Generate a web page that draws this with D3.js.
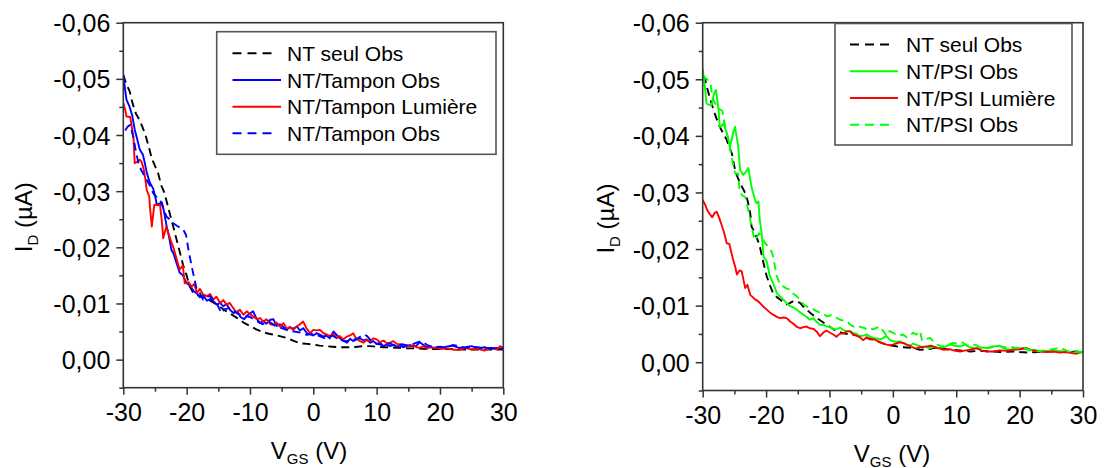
<!DOCTYPE html>
<html>
<head>
<meta charset="utf-8">
<script src="https://cdn.jsdelivr.net/npm/d3@7"></script>
<style>
  html, body { margin: 0; padding: 0; background: #fff; }
  svg { display: block; }
  text { font-family: "Liberation Sans", Arial, sans-serif; fill: #000; }
</style>
</head>
<body>
<svg id="chart" width="1104" height="468"></svg>
<script>
// ---------- data ----------
const xTicks = [-30, -20, -10, 0, 10, 20, 30];
const xMinorTicks = [-25, -15, -5, 5, 15, 25];
const yTicks = [-0.06, -0.05, -0.04, -0.03, -0.02, -0.01, 0];
const yMinorTicks = [-0.055, -0.045, -0.035, -0.025, -0.015, -0.005, 0.005];

const leftLegend = ["NT seul Obs", "NT/Tampon Obs", "NT/Tampon Lumière", "NT/Tampon Obs"];
const rightLegend = ["NT seul Obs", "NT/PSI Obs", "NT/PSI Lumière", "NT/PSI Obs"];

// Left panel: [VGS (V), ID (µA)]
const seulObsLeft = [[-30,-0.0507],[-29.5,-0.049],[-29,-0.0478],[-28.5,-0.0455],[-28,-0.0438],[-27.5,-0.0428],[-27,-0.0415],[-26.5,-0.040],[-26,-0.038],[-25.5,-0.0358],[-25,-0.0345],[-24.5,-0.0332],[-24,-0.031],[-23.5,-0.0297],[-23,-0.0275],[-22.5,-0.0253],[-22,-0.0232],[-21.5,-0.021],[-21,-0.0188],[-20.5,-0.0166],[-20,-0.015],[-19.5,-0.013],[-19,-0.012],[-18,-0.0113],[-17,-0.0109],[-16,-0.0103],[-15,-0.0096],[-14,-0.0088],[-13,-0.0081],[-12,-0.0074],[-11,-0.0066],[-10,-0.006],[-9,-0.0054],[-8,-0.0049],[-7,-0.0046],[-6,-0.0044],[-5,-0.0041],[-4,-0.0038],[-3,-0.0033],[-2,-0.0029],[-1,-0.0028],[0,-0.0027],[1,-0.0025],[2,-0.0024],[3,-0.0023],[4,-0.0022],[5,-0.0022],[6,-0.0022],[7,-0.0023],[8,-0.0024],[9,-0.0024],[10,-0.0023],[11,-0.0022],[12,-0.0022],[13,-0.0021],[14,-0.0021],[15,-0.002],[16,-0.002],[18,-0.0019],[20,-0.0019],[22,-0.0019],[24,-0.0018],[26,-0.0018],[28,-0.0018],[30,-0.0018]];

const tamponObsLeft = [[-30,-0.0507],[-29.7,-0.048],[-29.5,-0.0463],[-29,-0.045],[-28.6,-0.0435],[-28.2,-0.041],[-27.9,-0.0397],[-27.4,-0.0374],[-26.9,-0.0365],[-26.6,-0.035],[-26.3,-0.0333],[-25.8,-0.0315],[-25.3,-0.0305],[-25,-0.0292],[-24.7,-0.0276],[-24.2,-0.0278],[-23.9,-0.028],[-23.6,-0.0265],[-23.2,-0.024],[-22.8,-0.022],[-22.4,-0.0195],[-22.1,-0.019],[-21.6,-0.0172],[-21.1,-0.0155],[-20.6,-0.015],[-20,-0.0136],[-19.5,-0.0132],[-18.9,-0.0122],[-18.4,-0.0118],[-17.9,-0.0111],[-17.4,-0.0115],[-16.8,-0.0105],[-16.2,-0.0108],[-15.7,-0.0103],[-15.2,-0.0098],[-14.7,-0.0101],[-14.2,-0.0095],[-13.7,-0.0099],[-13.1,-0.0088],[-12.6,-0.0083],[-12,-0.0086],[-11.5,-0.0076],[-10.9,-0.0072],[-10.5,-0.0078],[-10,-0.0082],[-9.5,-0.0086],[-9,-0.0074],[-8.4,-0.0065],[-7.9,-0.0069],[-7.4,-0.0064],[-6.8,-0.0071],[-6.3,-0.0072],[-5.8,-0.006],[-5.3,-0.0063],[-4.7,-0.0058],[-4.2,-0.0053],[-3.7,-0.0058],[-3.2,-0.0055],[-2.6,-0.0059],[-2.1,-0.0052],[-1.6,-0.0056],[-1,-0.0047],[-0.5,-0.0045],[0,-0.0043],[0.5,-0.0047],[1.1,-0.0044],[1.6,-0.0041],[2.1,-0.0043],[2.6,-0.0038],[3.2,-0.005],[3.7,-0.0044],[4.2,-0.0038],[4.7,-0.0034],[5.3,-0.003],[5.8,-0.0037],[6.3,-0.0033],[6.8,-0.0036],[7.4,-0.0038],[7.9,-0.0034],[8.4,-0.0036],[9,-0.003],[9.5,-0.0033],[10,-0.0028],[10.5,-0.003],[11.1,-0.0024],[11.6,-0.0027],[12.1,-0.0024],[12.6,-0.0026],[13.2,-0.0023],[13.7,-0.0025],[14.2,-0.0022],[14.7,-0.0024],[15.3,-0.0026],[15.8,-0.0023],[16.3,-0.0025],[16.8,-0.0031],[17.4,-0.0026],[17.9,-0.0022],[18.4,-0.0024],[18.9,-0.0021],[19.5,-0.0022],[20,-0.002],[21,-0.0023],[22,-0.0025],[23,-0.0021],[24,-0.0022],[25,-0.0024],[26,-0.002],[27,-0.0022],[28,-0.0019],[29,-0.0021],[30,-0.0019]];

const tamponLumiereLeft = [[-30,-0.0457],[-29.7,-0.0445],[-29.5,-0.0433],[-28.9,-0.0432],[-28.6,-0.041],[-28.4,-0.0397],[-28.2,-0.035],[-27.8,-0.0352],[-27.4,-0.0356],[-27.1,-0.0352],[-26.8,-0.034],[-26.5,-0.032],[-26.3,-0.0302],[-25.9,-0.029],[-25.8,-0.0273],[-25.5,-0.0237],[-25.1,-0.0276],[-24.6,-0.0275],[-24.2,-0.0276],[-23.9,-0.0245],[-23.7,-0.0216],[-23.2,-0.0237],[-22.6,-0.0215],[-22.1,-0.02],[-21.6,-0.018],[-21.1,-0.016],[-20.6,-0.0168],[-20.3,-0.0136],[-19.7,-0.0138],[-19.2,-0.013],[-18.8,-0.0135],[-18.4,-0.0119],[-17.9,-0.0126],[-17.4,-0.0116],[-16.8,-0.0113],[-16.3,-0.0117],[-15.8,-0.0107],[-15.3,-0.0112],[-14.7,-0.0101],[-14.2,-0.0106],[-13.7,-0.0098],[-13.2,-0.0101],[-12.6,-0.0091],[-12.1,-0.0083],[-11.6,-0.0089],[-11.05,-0.008],[-10.5,-0.0086],[-10,-0.0081],[-9.5,-0.0077],[-8.9,-0.0072],[-8.4,-0.0074],[-7.9,-0.0068],[-7.4,-0.0072],[-6.8,-0.0063],[-6.3,-0.0062],[-5.8,-0.0066],[-5.3,-0.0059],[-4.7,-0.0065],[-4.2,-0.0055],[-3.7,-0.0058],[-3.2,-0.0053],[-2.6,-0.0059],[-2.1,-0.0063],[-1.6,-0.0068],[-1.1,-0.0056],[-0.5,-0.0047],[0,-0.0053],[0.5,-0.0052],[1.05,-0.0053],[1.6,-0.0047],[2.1,-0.0045],[2.6,-0.0042],[3.2,-0.0046],[3.7,-0.0038],[4.2,-0.0042],[4.7,-0.0036],[5.3,-0.0041],[5.8,-0.0043],[6.3,-0.0047],[6.8,-0.0037],[7.4,-0.0033],[7.9,-0.003],[8.4,-0.0035],[9,-0.0033],[9.5,-0.0038],[10,-0.0036],[10.5,-0.0031],[11.1,-0.0034],[11.6,-0.0029],[12.1,-0.003],[12.6,-0.0033],[13.2,-0.0028],[13.7,-0.0027],[14.2,-0.0027],[14.7,-0.0025],[15.3,-0.0023],[15.8,-0.0026],[16.3,-0.0022],[16.8,-0.0021],[17.4,-0.0024],[17.9,-0.0019],[18.4,-0.0022],[18.9,-0.0021],[19.5,-0.0021],[20,-0.0019],[21,-0.002],[22,-0.0018],[23,-0.0017],[24,-0.0021],[25,-0.0018],[26,-0.0019],[27,-0.0016],[28,-0.0021],[29,-0.0018],[29.5,-0.0024],[30,-0.0021]];

const tamponObs2Left = [[-29.7,-0.0408],[-29.3,-0.0415],[-28.9,-0.0418],[-28.4,-0.0395],[-28,-0.037],[-27.6,-0.035],[-27.2,-0.0338],[-26.8,-0.033],[-26.3,-0.032],[-25.8,-0.031],[-25.3,-0.0297],[-24.8,-0.029],[-24.2,-0.0285],[-23.7,-0.027],[-23.2,-0.0255],[-22.7,-0.025],[-22.1,-0.0243],[-21.5,-0.0238],[-21,-0.0235],[-20.5,-0.0231],[-20.1,-0.0222],[-19.7,-0.0195],[-19.2,-0.0166],[-18.8,-0.0145],[-18.4,-0.0125],[-17.9,-0.0118],[-17.4,-0.0107],[-16.8,-0.0112],[-16.3,-0.0113],[-15.8,-0.0105],[-15.3,-0.0101],[-14.5,-0.0083],[-14,-0.009],[-13,-0.0092],[-12,-0.0082],[-11,-0.0078],[-10,-0.0076],[-9,-0.0069],[-8,-0.0063],[-7,-0.0068],[-6,-0.006],[-5,-0.0056],[-4,-0.0052],[-3,-0.005],[-2,-0.0048],[-1,-0.0044],[0,-0.0046],[1,-0.0042],[2,-0.0037],[3,-0.0043],[4,-0.0036],[5,-0.0033],[6,-0.0034],[7,-0.0038],[8,-0.0045],[8.5,-0.0042],[9,-0.0035],[10,-0.0028],[11,-0.0026],[12,-0.0029],[13,-0.0025],[14,-0.0027],[15,-0.0025],[16,-0.0029],[17,-0.0033],[18,-0.0026],[19,-0.0022],[20,-0.0023],[21,-0.0021],[22,-0.0026],[23,-0.0024],[24,-0.0021],[25,-0.0023],[26,-0.0022],[27,-0.002],[28,-0.0021],[29,-0.002],[30,-0.0019]];

// Right panel
const seulObsRight = [[-30,-0.0506],[-29.6,-0.0499],[-29.2,-0.048],[-28.8,-0.0465],[-28.3,-0.0446],[-27.8,-0.043],[-27.3,-0.0416],[-26.8,-0.0405],[-26.2,-0.0393],[-25.8,-0.038],[-25.4,-0.0369],[-24.9,-0.034],[-24.5,-0.0327],[-24.1,-0.0316],[-23.7,-0.0308],[-23.3,-0.0299],[-22.9,-0.0285],[-22.5,-0.0263],[-22.3,-0.024],[-21.75,-0.0228],[-21.4,-0.0218],[-21,-0.0205],[-20.7,-0.019],[-20.4,-0.0175],[-19.9,-0.0152],[-19.4,-0.0136],[-18.9,-0.0122],[-18.3,-0.0115],[-17.8,-0.0111],[-17.3,-0.0106],[-16.75,-0.0102],[-16.2,-0.0105],[-15.7,-0.0108],[-15.2,-0.0107],[-14.65,-0.0105],[-14.1,-0.0098],[-13.6,-0.0093],[-12.8,-0.0085],[-12,-0.0078],[-11.2,-0.0072],[-10.4,-0.0066],[-9.6,-0.006],[-8.9,-0.0055],[-7.8,-0.0051],[-6.8,-0.0049],[-6,-0.0048],[-5.2,-0.0046],[-4.2,-0.0043],[-3.1,-0.004],[-2,-0.0035],[-1,-0.0031],[0,-0.0029],[1.1,-0.0027],[2.2,-0.0026],[3.2,-0.0025],[4.3,-0.0022],[5.5,-0.0023],[6.9,-0.0026],[8,-0.0024],[9,-0.0022],[10.5,-0.0021],[12.2,-0.0019],[13.8,-0.002],[15.5,-0.0019],[17.4,-0.0018],[19,-0.0019],[20,-0.0018],[21.5,-0.0017],[23,-0.0018],[24.5,-0.0019],[25.8,-0.0019],[27.9,-0.0018],[29,-0.0019],[30,-0.0017]];

const psiObsRight = [[-30,-0.0519],[-29.8,-0.050],[-29.6,-0.0481],[-29.4,-0.0457],[-29,-0.0455],[-28.6,-0.0454],[-28.2,-0.0475],[-27.9,-0.0481],[-27.5,-0.0446],[-27.3,-0.0416],[-27,-0.0418],[-26.75,-0.0422],[-26.2,-0.0405],[-25.7,-0.0381],[-25.4,-0.0395],[-25.2,-0.0405],[-24.9,-0.0416],[-24.6,-0.0395],[-24.4,-0.0381],[-24.1,-0.034],[-23.6,-0.0331],[-23.2,-0.0336],[-22.8,-0.0343],[-22.3,-0.031],[-21.75,-0.0287],[-21.5,-0.0281],[-21.2,-0.0284],[-21,-0.0252],[-20.7,-0.0228],[-20.4,-0.0187],[-19.9,-0.0178],[-19.4,-0.0152],[-18.9,-0.014],[-18.3,-0.0122],[-17.8,-0.0116],[-17.3,-0.0111],[-16.7,-0.0104],[-16.2,-0.0099],[-15.7,-0.0097],[-15.2,-0.0093],[-14.6,-0.0088],[-14.1,-0.0084],[-13.6,-0.008],[-13.1,-0.0075],[-12.55,-0.0078],[-12,-0.0071],[-11.5,-0.0066],[-10.9,-0.0066],[-10.4,-0.0063],[-9.9,-0.0062],[-9.4,-0.0058],[-8.8,-0.0059],[-8.3,-0.0061],[-7.8,-0.0057],[-7.3,-0.0055],[-6.8,-0.0055],[-6.25,-0.0052],[-5.7,-0.005],[-5.2,-0.0046],[-4.6,-0.0047],[-4.1,-0.0049],[-3.6,-0.0045],[-3.1,-0.0043],[-2.5,-0.0042],[-2,-0.004],[-1.5,-0.0043],[-1,-0.0046],[-0.5,-0.004],[0,-0.0037],[0.6,-0.0036],[1.1,-0.0037],[1.6,-0.0034],[2.2,-0.0031],[2.7,-0.0029],[3.2,-0.0033],[3.8,-0.003],[4.3,-0.0028],[5,-0.0027],[5.8,-0.0025],[6.6,-0.0027],[7.4,-0.0025],[8.2,-0.0027],[9,-0.0031],[9.8,-0.0029],[10.6,-0.0028],[11.4,-0.0031],[12.2,-0.0026],[13.2,-0.0024],[14,-0.0026],[14.8,-0.0025],[15.8,-0.0028],[16.9,-0.0029],[17.6,-0.0024],[18.5,-0.0022],[19.5,-0.0024],[20.6,-0.0025],[21.5,-0.0021],[22.3,-0.0022],[23.2,-0.0019],[24.2,-0.002],[25.3,-0.0021],[26.4,-0.0019],[27.4,-0.0018],[28.5,-0.0017],[29.5,-0.0016],[30,-0.0019]];

const psiLumiereRight = [[-30,-0.0287],[-29.6,-0.0278],[-29.3,-0.0269],[-28.9,-0.0262],[-28.5,-0.0256],[-28.1,-0.0264],[-27.8,-0.0266],[-27.4,-0.0255],[-27,-0.0242],[-26.6,-0.0228],[-26.2,-0.021],[-25.8,-0.0209],[-25.5,-0.0195],[-25.2,-0.0181],[-24.9,-0.017],[-24.6,-0.0155],[-24.2,-0.0162],[-23.85,-0.0161],[-23.3,-0.0131],[-22.95,-0.0137],[-22.5,-0.0119],[-22.1,-0.0115],[-21.75,-0.0111],[-21.4,-0.0109],[-21,-0.0105],[-20.5,-0.0099],[-19.9,-0.0093],[-19.4,-0.0088],[-18.9,-0.0084],[-18.3,-0.008],[-17.8,-0.0078],[-17.3,-0.0079],[-16.75,-0.0078],[-16.2,-0.0072],[-15.7,-0.0068],[-15.2,-0.0063],[-14.65,-0.006],[-14.1,-0.0062],[-13.6,-0.0063],[-13.1,-0.006],[-12.55,-0.0059],[-12,-0.0054],[-11.5,-0.0046],[-11,-0.0052],[-10.5,-0.0056],[-9.9,-0.0052],[-9.4,-0.0049],[-8.9,-0.0045],[-8.4,-0.005],[-7.8,-0.0051],[-7.3,-0.0054],[-6.8,-0.0055],[-6.25,-0.0049],[-5.7,-0.0047],[-5.2,-0.0044],[-4.7,-0.0039],[-4.1,-0.0044],[-3.6,-0.004],[-3.1,-0.0041],[-2.5,-0.0038],[-2,-0.0035],[-1.5,-0.0033],[-1,-0.0031],[-0.5,-0.003],[0,-0.0031],[0.5,-0.0033],[1.1,-0.0035],[1.6,-0.0034],[2.2,-0.0031],[2.7,-0.0029],[3.2,-0.0026],[3.7,-0.0024],[4.3,-0.0027],[4.8,-0.0027],[5.4,-0.0028],[6,-0.0029],[6.4,-0.0028],[7,-0.0025],[7.5,-0.0024],[8,-0.0022],[9,-0.0023],[9.5,-0.0021],[10.6,-0.0019],[11.5,-0.0021],[12.2,-0.0022],[13.2,-0.0025],[14,-0.0021],[14.8,-0.0019],[15.8,-0.0019],[16.9,-0.0021],[18,-0.002],[19,-0.0022],[20,-0.0023],[21.1,-0.0025],[22,-0.0021],[23.2,-0.0019],[24.2,-0.0018],[25.3,-0.0019],[26.3,-0.0017],[27.4,-0.0018],[28.2,-0.0016],[29,-0.0015],[29.5,-0.0018],[30,-0.0018]];

const psiObs2Right = [[-30,-0.0508],[-29.6,-0.0502],[-29.2,-0.0499],[-28.8,-0.0494],[-28.5,-0.047],[-28.1,-0.0458],[-27.7,-0.0452],[-27.3,-0.0447],[-26.9,-0.0444],[-26.6,-0.0425],[-26.2,-0.0405],[-25.8,-0.0385],[-25.4,-0.036],[-24.9,-0.0334],[-24.4,-0.0333],[-24.2,-0.0305],[-23.8,-0.0295],[-23.3,-0.0292],[-22.7,-0.0264],[-22.2,-0.0235],[-21.8,-0.0216],[-21.4,-0.0222],[-21.1,-0.0228],[-20.6,-0.0218],[-20.1,-0.021],[-19.6,-0.0203],[-19.1,-0.0195],[-18.9,-0.0187],[-18.6,-0.0169],[-18.3,-0.0152],[-17.8,-0.0137],[-17.3,-0.0134],[-16.7,-0.013],[-16.2,-0.0128],[-15.7,-0.0121],[-15.2,-0.0117],[-14.65,-0.0111],[-14.1,-0.0102],[-13.5,-0.0098],[-12.8,-0.0096],[-12.2,-0.0091],[-11.6,-0.0088],[-11,-0.0086],[-10.4,-0.0081],[-9.8,-0.0083],[-9.3,-0.0081],[-8.8,-0.0078],[-8.3,-0.0075],[-7.7,-0.0073],[-7.2,-0.0072],[-6.7,-0.0066],[-6.2,-0.0063],[-5.6,-0.0065],[-5.1,-0.0062],[-4.6,-0.0061],[-4.1,-0.0058],[-3.6,-0.006],[-3.1,-0.0058],[-2.5,-0.0061],[-2,-0.0063],[-1.5,-0.0055],[-1,-0.0046],[-0.5,-0.0055],[0,-0.0052],[0.5,-0.0049],[1,-0.0047],[1.6,-0.0049],[2.2,-0.0044],[2.7,-0.0047],[3.2,-0.0052],[3.7,-0.0049],[4.3,-0.0055],[4.6,-0.0038],[5.2,-0.0041],[5.9,-0.0043],[6.6,-0.0034],[7.2,-0.003],[7.8,-0.0028],[8.5,-0.0029],[9,-0.0032],[9.5,-0.0034],[10.3,-0.0033],[11,-0.0035],[11.6,-0.003],[12.2,-0.0029],[13,-0.0031],[13.6,-0.0027],[14.5,-0.0026],[15.2,-0.0025],[16,-0.0028],[16.9,-0.0028],[17.8,-0.0026],[18.6,-0.0027],[19.5,-0.0025],[20.7,-0.0025],[21.6,-0.0022],[22.7,-0.0019],[23.8,-0.0021],[24.8,-0.0022],[25.7,-0.0024],[26.6,-0.0025],[27.5,-0.002],[28.5,-0.0017],[29.2,-0.0019],[30,-0.0018]];

// ---------- drawing ----------
const svg = d3.select("#chart");
const FONT = '"Liberation Sans", Arial, sans-serif';
const fmtY = v => {
  if (Math.abs(v) < 1e-12) return "0,00";
  return (v < 0 ? "-" : "") + Math.abs(v).toFixed(2).replace(".", ",");
};

const panels = [
  { id: "L", x0: 123.3, x1: 503.3, top: 22.7, bottom: 387.7, yLabelX: 32, xLabelX: 309,
    series: [
      { data: seulObsLeft, color: "#000000", dash: "8,5" },
      { data: tamponObsLeft, color: "#0000ff", dash: null },
      { data: tamponLumiereLeft, color: "#ff0000", dash: null },
      { data: tamponObs2Left, color: "#0000ff", dash: "8,5" }
    ],
    legend: { names: leftLegend, x0: 216.7, x1: 496, y0: 31.7, y1: 154.3, rows: [53.3, 80, 106.7, 133.3], s0: 232.5, s1: 281, s1d: 273, tx: 287 }
  },
  { id: "R", x0: 702.7, x1: 1083, top: 22.7, bottom: 390.5, yLabelX: 614, xLabelX: 892,
    series: [
      { data: seulObsRight, color: "#000000", dash: "8,5" },
      { data: psiObsRight, color: "#00ff00", dash: null },
      { data: psiLumiereRight, color: "#ff0000", dash: null },
      { data: psiObs2Right, color: "#00ff00", dash: "8,5" }
    ],
    legend: { names: rightLegend, x0: 835, x1: 1072, y0: 23.5, y1: 145, rows: [44.5, 71.3, 98, 124.7], s0: 850, s1: 898, s1d: 891, tx: 906 }
  }
];

panels.forEach(p => {
  const x = d3.scaleLinear().domain([-30, 30]).range([p.x0, p.x1]);
  const y = d3.scaleLinear().domain([0.005, -0.06]).range([p.bottom, p.top]);
  const g = svg.append("g");

  const clipId = "clip" + p.id;
  svg.append("clipPath").attr("id", clipId)
    .append("rect").attr("x", p.x0).attr("y", p.top).attr("width", p.x1 - p.x0).attr("height", p.bottom - p.top);

  const line = d3.line().x(d => x(d[0])).y(d => y(d[1]));
  const lg = g.append("g").attr("clip-path", `url(#${clipId})`);
  p.series.forEach(s => {
    lg.append("path").datum(s.data)
      .attr("d", line)
      .attr("fill", "none")
      .attr("stroke", s.color)
      .attr("stroke-width", 1.9)
      .attr("stroke-linejoin", "round")
      .attr("stroke-dasharray", s.dash);
  });

  const xAxisMajor = d3.axisBottom(x).tickValues(xTicks).tickSize(7).tickFormat(d => String(d));
  const xAxisMinor = d3.axisBottom(x).tickValues(xMinorTicks).tickSize(4).tickFormat("");
  const gx = g.append("g").attr("transform", `translate(0,${p.bottom})`).call(xAxisMajor);
  const gxm = g.append("g").attr("transform", `translate(0,${p.bottom})`).call(xAxisMinor);
  [gx, gxm].forEach(a => {
    a.select(".domain").remove();
    a.selectAll("line").attr("stroke", "#333").attr("stroke-width", 1.5);
  });
  gx.selectAll("text").attr("y", 33).attr("dy", 0)
    .style("font-family", FONT).style("font-size", "25px").attr("fill", "#000");

  const yAxisMajor = d3.axisLeft(y).tickValues(yTicks).tickSize(7).tickFormat(fmtY);
  const yAxisMinor = d3.axisLeft(y).tickValues(yMinorTicks).tickSize(4).tickFormat("");
  const gy = g.append("g").attr("transform", `translate(${p.x0},0)`).call(yAxisMajor);
  const gym = g.append("g").attr("transform", `translate(${p.x0},0)`).call(yAxisMinor);
  [gy, gym].forEach(a => {
    a.select(".domain").remove();
    a.selectAll("line").attr("stroke", "#333").attr("stroke-width", 1.5);
  });
  gy.selectAll("text").attr("x", -13).attr("dy", "0.36em")
    .style("font-family", FONT).style("font-size", "25px").attr("fill", "#000");

  g.append("rect")
    .attr("x", p.x0).attr("y", p.top)
    .attr("width", p.x1 - p.x0).attr("height", p.bottom - p.top)
    .attr("fill", "none").attr("stroke", "#333").attr("stroke-width", 1.6);

  const xt = g.append("text")
    .attr("x", p.xLabelX).attr("y", p.bottom + 71)
    .attr("text-anchor", "middle")
    .style("font-size", "24px");
  xt.append("tspan").text("V");
  xt.append("tspan").attr("dy", 5).style("font-size", "15px").text("GS");
  xt.append("tspan").attr("dy", -5).text(" (V)");

  const yMid = (p.top + p.bottom) / 2 + 12;
  const yt = g.append("text")
    .attr("transform", `translate(${p.yLabelX},${yMid}) rotate(-90)`)
    .attr("text-anchor", "middle")
    .style("font-size", "24px");
  yt.append("tspan").text("I");
  yt.append("tspan").attr("dy", 6).style("font-size", "15px").text("D");
  yt.append("tspan").attr("dy", -6).text(" (µA)");

  const L = p.legend;
  const lgnd = g.append("g");
  lgnd.append("rect")
    .attr("x", L.x0).attr("y", L.y0)
    .attr("width", L.x1 - L.x0).attr("height", L.y1 - L.y0)
    .attr("fill", "#fff").attr("stroke", "#555").attr("stroke-width", 1.6);
  p.series.forEach((s, i) => {
    const ry = L.rows[i];
    lgnd.append("line")
      .attr("x1", L.s0).attr("x2", s.dash ? L.s1d : L.s1)
      .attr("y1", ry).attr("y2", ry)
      .attr("stroke", s.color).attr("stroke-width", 1.9)
      .attr("stroke-dasharray", s.dash ? "9,6" : null);
    lgnd.append("text")
      .attr("x", L.tx).attr("y", ry + 7.5)
      .style("font-size", "21px")
      .text(L.names[i]);
  });
});
</script>
</body>
</html>
